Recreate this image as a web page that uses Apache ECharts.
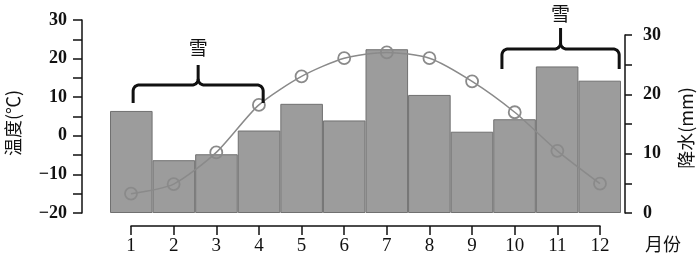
<!DOCTYPE html>
<html>
<head>
<meta charset="utf-8">
<script src="https://cdn.jsdelivr.net/npm/echarts@6/dist/echarts.min.js"></script>
<style>html,body{margin:0;padding:0;background:#fff}#c{width:700px;height:266px}</style>
</head>
<body>
<div id="c"></div>
<script>
const months = [1, 2, 3, 4, 5, 6, 7, 8, 9, 10, 11, 12];
const monthLabels = ['1', '2', '3', '4', '5', '6', '7', '8', '9', '10', '11', '12'];
const temperature = [-15.0, -12.5, -4.3, 8.0, 15.4, 20.1, 21.6, 20.1, 14.1, 6.1, -3.9, -12.4];
const precipitation = [17.2, 8.9, 9.9, 13.9, 18.4, 15.6, 27.6, 19.9, 13.7, 15.8, 24.7, 22.3];
const snowRanges = [[1.05, 4.1], [9.7, 12.45]];
const snowLabel = '雪';
const tempName = '温度(℃)';
const precName = '降水(mm)';
const xName = '月份';

const serif = '"Liberation Serif", "DejaVu Serif", serif';
const numFont = {fontFamily: serif, fontWeight: 'bold', fontSize: 18, color: '#111'};
const cjkFont = '"Noto Sans CJK SC", sans-serif';

const chart = echarts.init(document.getElementById('c'), null, {renderer: 'canvas'});
chart.setOption({
  animation: false,
  backgroundColor: '#fff',
  grid: [
    {left: 131, right: 100, top: 20, bottom: 53},
    {left: 110, right: 79, top: 35, bottom: 53}
  ],
  xAxis: [
    {type: 'value', gridIndex: 0, min: 1, max: 12, interval: 1, offset: 13, position: 'bottom',
     axisLine: {show: true, onZero: false, lineStyle: {color: '#111', width: 1.5}},
     axisTick: {show: true, length: 9, lineStyle: {color: '#111', width: 1.5}},
     axisLabel: {margin: 11, formatter: v => monthLabels[v - 1], fontFamily: serif, fontSize: 19, color: '#111'},
     splitLine: {show: false}},
    {type: 'category', gridIndex: 1, data: monthLabels, show: false}
  ],
  yAxis: [
    {type: 'value', gridIndex: 0, position: 'left', min: -20, max: 30, interval: 10, offset: 49,
     axisLine: {show: true, onZero: false, lineStyle: {color: '#111', width: 1.5}},
     axisTick: {show: true, length: 9, lineStyle: {color: '#111', width: 1.5}},
     minorTick: {show: true, splitNumber: 2, length: 9, lineStyle: {color: '#111', width: 1.5}},
     axisLabel: Object.assign({margin: 15, formatter: v => String(v).replace('-', '−')}, numFont),
     splitLine: {show: false}},
    {type: 'value', gridIndex: 1, position: 'right', min: 0, max: 30, interval: 10, offset: 4,
     axisLine: {show: true, onZero: false, lineStyle: {color: '#111', width: 1.5}},
     axisTick: {show: true, length: 7, lineStyle: {color: '#111', width: 1.5}},
     minorTick: {show: true, splitNumber: 2, length: 7, lineStyle: {color: '#111', width: 1.5}},
     axisLabel: Object.assign({margin: 18}, numFont),
     splitLine: {show: false}}
  ],
  series: [
    {type: 'bar', xAxisIndex: 1, yAxisIndex: 1, data: precipitation,
     barCategoryGap: 0, barWidth: '100%',
     itemStyle: {color: '#9c9c9c', borderColor: '#707070', borderWidth: 1}, z: 2},
    {type: 'line', xAxisIndex: 0, yAxisIndex: 0,
     data: months.map((m, i) => [m, temperature[i]]),
     smooth: 0.25, symbol: 'circle', symbolSize: 12,
     lineStyle: {color: '#8a8a8a', width: 1.5},
     itemStyle: {color: 'rgba(255,255,255,0)', borderColor: '#8a8a8a', borderWidth: 1.8}, z: 5}
  ]
});

// annotations (brackets above snowy months)
const yLevels = [
  {end: 103, h: 85, top: 65, text: 48},
  {end: 69, h: 49, top: 28, text: 14}
];
function arcPts(cx, cy, r, a0, a1) {
  const pts = [];
  for (let k = 0; k <= 8; k++) {
    const a = a0 + (a1 - a0) * k / 8;
    pts.push([cx + r * Math.cos(a), cy + r * Math.sin(a)]);
  }
  return pts;
}
const graphics = [];
snowRanges.forEach((r, i) => {
  const x1 = chart.convertToPixel({xAxisIndex: 0}, r[0]);
  const x2 = chart.convertToPixel({xAxisIndex: 0}, r[1]);
  const xm = (x1 + x2) / 2;
  const L = yLevels[i], rr = 6;
  const left = [[x1, L.end]].concat(arcPts(x1 + rr, L.h + rr, rr, Math.PI, 1.5 * Math.PI))
    .concat(arcPts(xm - rr, L.h - rr, rr, 0.5 * Math.PI, 0)).concat([[xm, L.top]]);
  const right = [[x2, L.end]].concat(arcPts(x2 - rr, L.h + rr, rr, 0, -0.5 * Math.PI))
    .concat(arcPts(xm + rr, L.h - rr, rr, 0.5 * Math.PI, Math.PI)).concat([[xm, L.h - rr]]);
  graphics.push({type: 'polyline', shape: {points: left}, style: {fill: null, stroke: '#111', lineWidth: 3, lineJoin: 'round'}, z: 10});
  graphics.push({type: 'polyline', shape: {points: right}, style: {fill: null, stroke: '#111', lineWidth: 3, lineJoin: 'round'}, z: 10});
  graphics.push({type: 'text', x: xm, y: L.text, style: {text: snowLabel, font: `19px ${cjkFont}`, fill: '#111', textAlign: 'center', textVerticalAlign: 'middle'}, z: 10});
});
graphics.push({type: 'text', x: 13, y: 123, rotation: Math.PI / 2, style: {text: tempName, font: `18px ${cjkFont}`, fill: '#111', textAlign: 'center', textVerticalAlign: 'middle'}});
graphics.push({type: 'text', x: 686, y: 128, rotation: Math.PI / 2, style: {text: precName, font: `18px ${cjkFont}`, fill: '#111', textAlign: 'center', textVerticalAlign: 'middle'}});
graphics.push({type: 'text', x: 663, y: 244, style: {text: xName, font: `18px ${cjkFont}`, fill: '#111', textAlign: 'center', textVerticalAlign: 'middle'}});
chart.setOption({graphic: graphics});
</script>
</body>
</html>
